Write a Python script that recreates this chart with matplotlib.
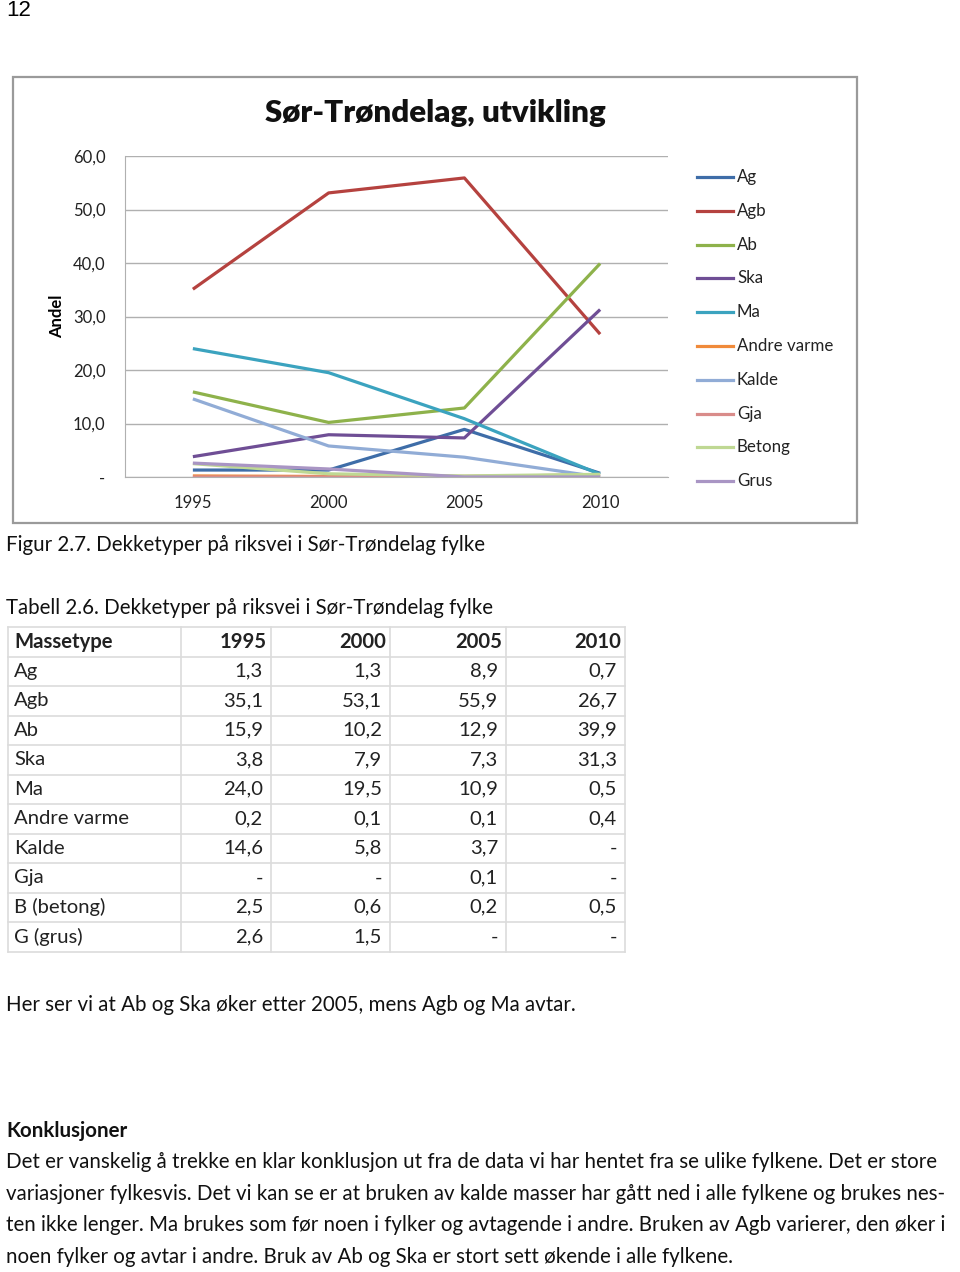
import matplotlib.pyplot as plt
from matplotlib.patches import Rectangle
from matplotlib.lines import Line2D

plt.rcParams['font.family'] = ['Lato', 'DejaVu Sans']

W, H = 960, 1272

years = ['1995', '2000', '2005', '2010']
series_names = ['Ag', 'Agb', 'Ab', 'Ska', 'Ma', 'Andre varme', 'Kalde', 'Gja', 'Betong', 'Grus']
table_names = ['Ag', 'Agb', 'Ab', 'Ska', 'Ma', 'Andre varme', 'Kalde', 'Gja', 'B (betong)', 'G (grus)']
ag = [1.3, 1.3, 8.9, 0.7]
agb = [35.1, 53.1, 55.9, 26.7]
ab = [15.9, 10.2, 12.9, 39.9]
ska = [3.8, 7.9, 7.3, 31.3]
ma = [24.0, 19.5, 10.9, 0.5]
andre_varme = [0.2, 0.1, 0.1, 0.4]
kalde = [14.6, 5.8, 3.7, 0.0]
gja = [0.0, 0.0, 0.1, 0.0]
betong = [2.5, 0.6, 0.2, 0.5]
grus = [2.6, 1.5, 0.0, 0.0]
values = [ag, agb, ab, ska, ma, andre_varme, kalde, gja, betong, grus]
colors = ['#3E6DA8', '#B5423F', '#8EB24B', '#6F4E95', '#3BA3BF', '#F08A3A',
          '#91ACD6', '#D98C8A', '#BFD893', '#A995C4']


def fx(x):
    return x / W


def fy(y):
    return 1 - y / H


fig = plt.figure(figsize=(9.6, 12.72), dpi=100)

# page number
fig.text(fx(6), fy(10), '12', fontsize=16, family=['Liberation Sans'], va='center')

# chart frame
fig.patches.append(Rectangle((fx(13), fy(523)), fx(844), 446 / H, transform=fig.transFigure,
                             fill=False, edgecolor='#9a9a9a', linewidth=1.6))
fig.text(fx(435), fy(113), 'Sør-Trøndelag, utvikling', fontsize=22.5, fontweight='heavy',
         ha='center', va='center', color='#111111')

ax = fig.add_axes([fx(125), fy(477), 543 / W, 321 / H])
x = range(len(years))
for name, vals, c in zip(series_names, values, colors):
    ax.plot(x, vals, color=c, linewidth=2.3, label=name, solid_capstyle='butt')
ax.set_xlim(-0.5, 3.5)
ax.set_ylim(0, 60)
ax.set_yticks([0, 10, 20, 30, 40, 50, 60])
ax.set_yticklabels(['-', '10,0', '20,0', '30,0', '40,0', '50,0', '60,0'])
ax.set_xticks(list(x))
ax.set_xticklabels(years)
ax.grid(axis='y', color='#b0b0b0', linewidth=1)
ax.set_axisbelow(True)
for s in ['top', 'right']:
    ax.spines[s].set_visible(False)
ax.spines['bottom'].set_color('#b0b0b0')
ax.spines['left'].set_color('#b0b0b0')
ax.tick_params(length=0, labelsize=12, colors='#222222')
ax.tick_params(axis='y', pad=14)
ax.tick_params(axis='x', pad=13)
ax.set_ylabel('Andel', fontsize=12, fontweight='bold', labelpad=6)

# legend
for i, (name, c) in enumerate(zip(series_names, colors)):
    yy = 177 + i * 33.8
    fig.add_artist(Line2D([fx(697), fx(733)], [fy(yy), fy(yy)], color=c, linewidth=2.3))
    fig.text(fx(737), fy(yy), name, fontsize=12.2, va='center', color='#222222')

body = dict(fontsize=14.8, va='center', color='#111111')
fig.text(fx(6), fy(545), 'Figur 2.7. Dekketyper på riksvei i Sør-Trøndelag fylke', **body)
fig.text(fx(6), fy(608), 'Tabell 2.6. Dekketyper på riksvei i Sør-Trøndelag fylke', **body)

# table
col_edges = [8, 181, 271, 390, 506, 625]
row_h = 29.5
top = 627
n_rows = len(table_names) + 1
for i in range(n_rows + 1):
    yy = top + i * row_h
    fig.add_artist(Line2D([fx(8), fx(625)], [fy(yy), fy(yy)], color='#dcdcdc', linewidth=1.2))
for xe in col_edges:
    fig.add_artist(Line2D([fx(xe), fx(xe)], [fy(top), fy(top + n_rows * row_h)],
                          color='#dcdcdc', linewidth=1.2))
tbl = dict(fontsize=14.6, va='center', color='#222222')
fig.text(fx(14), fy(top + row_h / 2), 'Massetype', fontweight='bold', **tbl)
for j, yr in enumerate(years):
    fig.text(fx(col_edges[j + 2] - 4), fy(top + row_h / 2), yr, fontweight='bold', ha='right', **tbl)
for i, (name, vals) in enumerate(zip(table_names, values)):
    yy = top + (i + 1.5) * row_h
    fig.text(fx(14), fy(yy), name, **tbl)
    for j, v in enumerate(vals):
        s = '-' if v == 0 else f'{v:.1f}'.replace('.', ',')
        fig.text(fx(col_edges[j + 2] - 8), fy(yy), s, ha='right', **tbl)

fig.text(fx(6), fy(1005), 'Her ser vi at Ab og Ska øker etter 2005, mens Agb og Ma avtar.', **body)
fig.text(fx(6), fy(1131), 'Konklusjoner', fontweight='bold', **body)
lines = [
    'Det er vanskelig å trekke en klar konklusjon ut fra de data vi har hentet fra se ulike fylkene. Det er store',
    'variasjoner fylkesvis. Det vi kan se er at bruken av kalde masser har gått ned i alle fylkene og brukes nes-',
    'ten ikke lenger. Ma brukes som før noen i fylker og avtagende i andre. Bruken av Agb varierer, den øker i',
    'noen fylker og avtar i andre. Bruk av Ab og Ska er stort sett økende i alle fylkene.',
]
for k, ln in enumerate(lines):
    fig.text(fx(6), fy(1162 + k * 31.7), ln, **body)

fig.savefig('out.png', dpi=100)
